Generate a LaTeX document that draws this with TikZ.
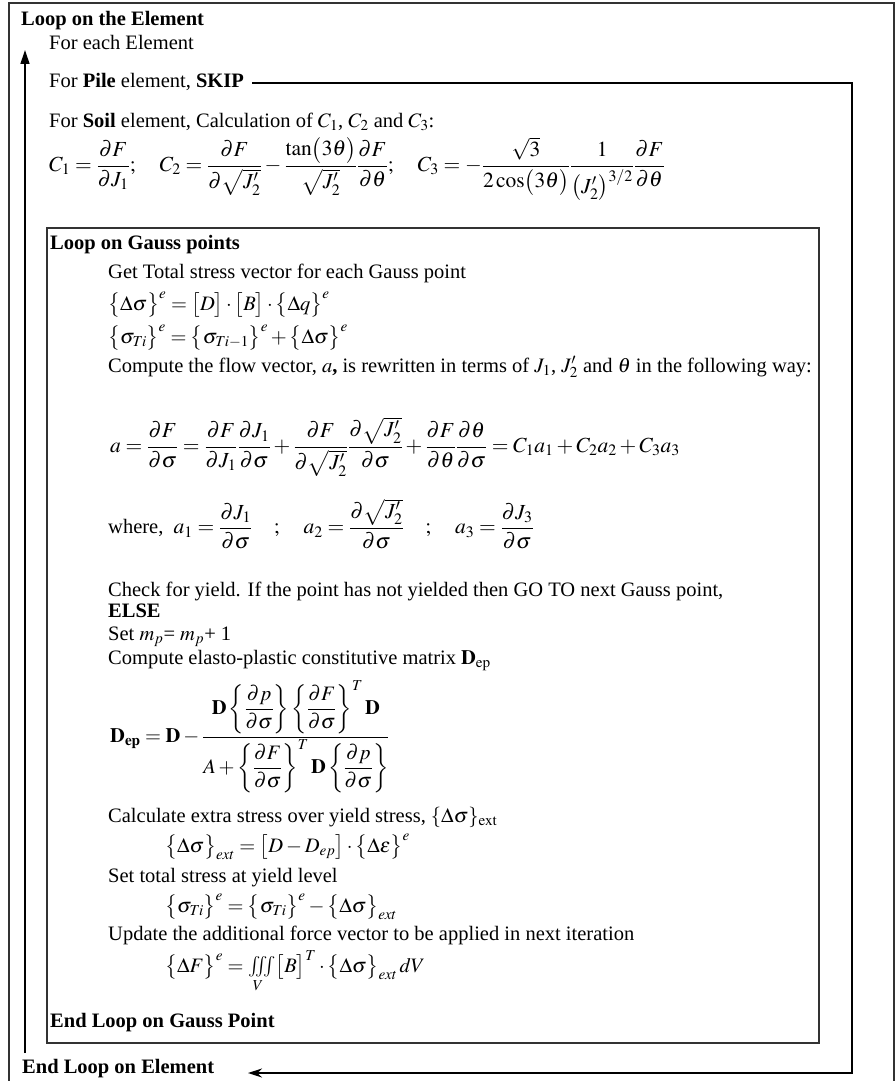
\documentclass[tikz,border=0pt]{standalone}
\usepackage{amsmath}
\usepackage{mathptmx}
\usepackage{fontspec}
\setmainfont{Liberation Serif}
\usetikzlibrary{arrows.meta}

\newcommand{\bodysize}{\fontsize{20.5}{24}\selectfont}
\newcommand{\eqsize}{\fontsize{21.5}{26}\selectfont}
\newcommand{\dd}{\partial}

\begin{document}
\begin{tikzpicture}[x=1pt, y=-1pt]
  \useasboundingbox (0,0) rectangle (895,1081);

  \tikzset{
    txt/.style={anchor=base west, inner sep=0pt, font=\bodysize},
    head/.style={txt, font=\bodysize\bfseries},
    eqn/.style={anchor=west, inner sep=0pt, font=\eqsize},
    frame line/.style={line width=1.3pt, draw=black!80},
    loop arrow/.style={line width=1.3pt, -{Triangle[width=9pt, length=14pt]}},
    back arrow/.style={line width=1.3pt, -{Stealth[width=9pt, length=14pt]}},
  }

  % outer frame (bottom edge falls off the page)
  \draw[frame line] (9,1090) -- (9,3) -- (894,3) -- (894,1090);

  % element loop
  \node[head] (elemloop) at (21,26) {Loop on the Element};
  \node[txt]  (eachelem) at (49,50) {For each Element};
  \node[txt]  (pile) at (49,88) {For \textbf{Pile} element, \textbf{SKIP}};
  \node[txt]  (soil) at (49,127) {For \textbf{Soil} element, Calculation of $C_1$, $C_2$ and $C_3$:};
  \node[eqn]  (ceq) at (49,169)
    {$C_1=\dfrac{\dd F}{\dd J_1};\quad
      C_2=\dfrac{\dd F}{\dd\sqrt{J_2'}}-\dfrac{\tan\bigl(3\theta\bigr)}{\sqrt{J_2'}}\dfrac{\dd F}{\dd\theta};\quad
      C_3=-\dfrac{\sqrt{3}}{2\cos\bigl(3\theta\bigr)}\dfrac{1}{\bigl(J_2'\bigr)^{3/2}}\dfrac{\dd F}{\dd\theta}$};

  % gauss point loop
  \draw[frame line] (47,228) rectangle (819,1043);
  \node[head] (gaussloop) at (50,249) {Loop on Gauss points};
  \node[txt] (gettotal) at (108,278) {Get Total stress vector for each Gauss point};
  \node[txt] (dsig) at (108,310)
    {$\bigl\{\Delta\sigma\bigr\}^e=\bigl[D\bigr]\cdot\bigl[B\bigr]\cdot\bigl\{\Delta q\bigr\}^e$};
  \node[txt] (sigti) at (108,343)
    {$\bigl\{\sigma_{Ti}\bigr\}^e=\bigl\{\sigma_{Ti-1}\bigr\}^e+\bigl\{\Delta\sigma\bigr\}^e$};
  \node[txt] (flow) at (108,372)
    {Compute the flow vector, $a$\textbf{,} is rewritten in terms of $J_1$, $J'_2$ and $\theta$ in the following way:};
  \node[eqn] (aeq) at (110,447)
    {$a=\dfrac{\dd F}{\dd\sigma}=\dfrac{\dd F}{\dd J_1}\dfrac{\dd J_1}{\dd\sigma}
      +\dfrac{\dd F}{\dd\sqrt{J_2'}}\dfrac{\dd\sqrt{J_2'}}{\dd\sigma}
      +\dfrac{\dd F}{\dd\theta}\dfrac{\dd\theta}{\dd\sigma}=C_1a_1+C_2a_2+C_3a_3$};
  \node[eqn] (where) at (108,524)
    {\bodysize where,~ \eqsize$a_1=\dfrac{\dd J_1}{\dd\sigma}\quad;\quad a_2=\dfrac{\dd\sqrt{J_2'}}{\dd\sigma}\quad;\quad a_3=\dfrac{\dd J_3}{\dd\sigma}$};
  \node[txt] (yield) at (108,596)
    {Check for yield. If the point has not yielded then GO TO next Gauss point,};
  \node[head] (else) at (108,617) {ELSE};
  \node[txt] (setmp) at (108,640) {Set $m_p$= $m_p$+ 1};
  \node[txt] (elasto) at (108,664)
    {Compute elasto-plastic constitutive matrix $\mathbf{D}_{\mathrm{ep}}$};
  \node[eqn, font=\bodysize] (dep) at (110,737)
    {$\mathbf{D}_{\mathbf{ep}}=\mathbf{D}-\dfrac{\mathbf{D}\left\{\dfrac{\dd p}{\dd\sigma}\right\}\left\{\dfrac{\dd F}{\dd\sigma}\right\}^{T}\mathbf{D}}
      {A+\left\{\dfrac{\dd F}{\dd\sigma}\right\}^{T}\mathbf{D}\left\{\dfrac{\dd p}{\dd\sigma}\right\}}$};
  \node[txt] (extra) at (108,822)
    {Calculate extra stress over yield stress, $\{\Delta\sigma\}_{\mathrm{ext}}$};
  \node[txt] (dsigext) at (165,852)
    {$\bigl\{\Delta\sigma\bigr\}_{ext}=\bigl[D-D_{ep}\bigr]\cdot\bigl\{\Delta\varepsilon\bigr\}^e$};
  \node[txt] (settotal) at (108,882) {Set total stress at yield level};
  \node[txt] (sigyield) at (165,912)
    {$\bigl\{\sigma_{Ti}\bigr\}^e=\bigl\{\sigma_{Ti}\bigr\}^e-\bigl\{\Delta\sigma\bigr\}_{ext}$};
  \node[txt] (update) at (108,940)
    {Update the additional force vector to be applied in next iteration};
  \node[txt] (dforce) at (165,972)
    {$\bigl\{\Delta F\bigr\}^e=\iiint\limits_V\bigl[B\bigr]^T\cdot\bigl\{\Delta\sigma\bigr\}_{ext}\,dV$};
  \node[head] (endgauss) at (50,1027) {End Loop on Gauss Point};

  \node[head] (endelem) at (22,1073) {End Loop on Element};

  % loop connectors
  \coordinate (upfoot) at (25,1053);
  \coordinate (uptip) at (25,50);
  \draw[loop arrow] (upfoot) -- (uptip);
  \coordinate (skipcorner) at (852,83);
  \coordinate (backtip) at (248,1073);
  \draw[back arrow] ([xshift=8pt]pile.east |- skipcorner) -- (skipcorner) |- (backtip);
\end{tikzpicture}
\end{document}
